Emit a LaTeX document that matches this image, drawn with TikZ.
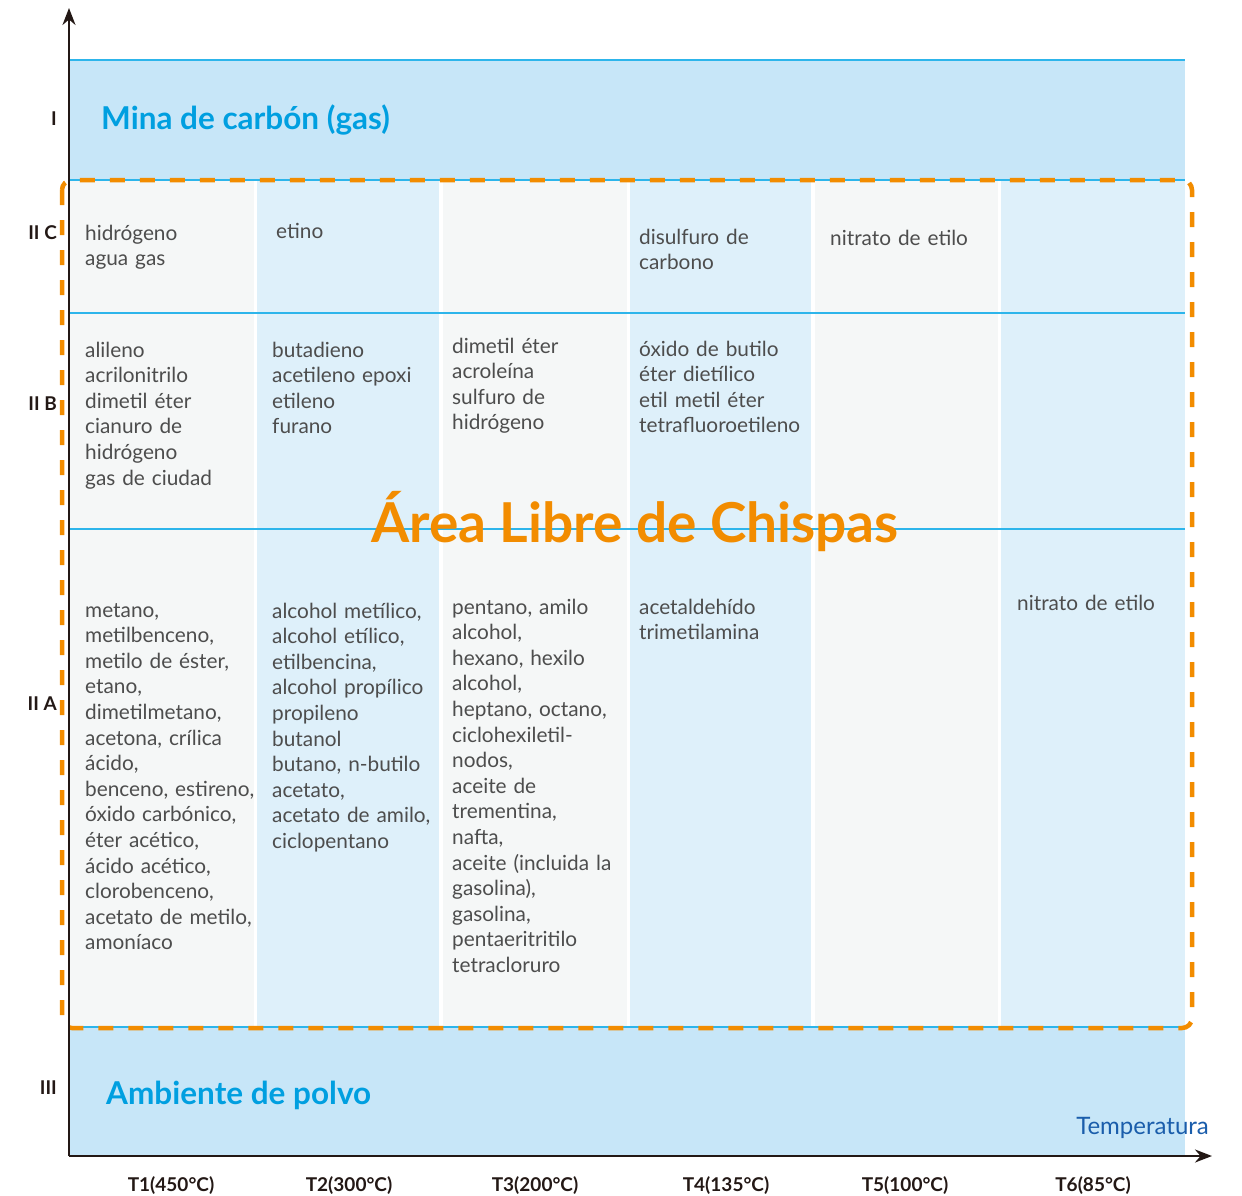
\documentclass[tikz,border=0pt]{standalone}
\usepackage{fontspec}
\setmainfont{Lato}
\usetikzlibrary{arrows.meta}
\definecolor{bandblue}{HTML}{C7E6F8}
\definecolor{colgray}{HTML}{F5F7F7}
\definecolor{colblue}{HTML}{DEF0FA}
\definecolor{cyanline}{HTML}{2DB5EB}
\definecolor{orng}{HTML}{F28C00}
\definecolor{titleblue}{HTML}{009FE0}
\definecolor{itemgray}{HTML}{4D4D4D}
\definecolor{axisblack}{HTML}{231815}
\definecolor{tempblue}{HTML}{1A5DAB}
\tikzset{
  items/.style={anchor=base west, inner sep=0pt, align=left, text width=240pt,
    text=itemgray, font=\fontsize{20.8}{25.6}\selectfont},
  zonetitle/.style={anchor=base west, inner sep=0pt, text=titleblue,
    font=\fontsize{31.5}{33}\selectfont\bfseries},
  roman/.style={anchor=base east, inner sep=0pt, text=axisblack,
    font=\fontsize{19}{22}\selectfont\bfseries},
  tlabel/.style={anchor=base, inner sep=0pt, text=axisblack,
    font=\fontsize{19}{22}\selectfont\bfseries},
  hline/.style={draw=cyanline, line width=1.5pt},
  axis/.style={draw=axisblack, line width=2.5pt, -{Stealth[length=17pt,width=13pt]}},
}
\begin{document}
\begin{tikzpicture}[x=1pt,y=-1pt]
\useasboundingbox (0,0) rectangle (1242,1195);
% bands
\fill[bandblue] (69,60) rectangle (1185,180);
\fill[bandblue] (69,1028) rectangle (1185,1156);
% columns
\fill[colgray] (69,180) rectangle (254,1028);
\fill[colblue] (257,180) rectangle (439,1028);
\fill[colgray] (443,180) rectangle (627,1028);
\fill[colblue] (630,180) rectangle (811,1028);
\fill[colgray] (815,180) rectangle (998,1028);
\fill[colblue] (1001,180) rectangle (1185,1028);
% horizontal lines
\foreach \yy in {60,180,313,529,1027}
  \draw[hline] (69,\yy) -- (1185,\yy);
% area title
\node[anchor=base, inner sep=0pt, text=orng, font=\fontsize{55}{58}\selectfont\bfseries]
  (area) at (635,542) {Área Libre de Chispas};
% dashed frame
\draw[orng, line width=4.5pt, dash pattern=on 15pt off 15pt, rounded corners=10pt]
  (62,180) rectangle (1192,1028);
% zone titles
\node[zonetitle] (mina) at (101,129) {Mina de carbón (gas)};
\node[zonetitle] (polvo) at (106,1104) {Ambiente de polvo};
% column texts
\node[items] (c1c) at (85,240) {hidrógeno\\agua gas};
\node[items] (c2c) at (276,238) {etino};
\node[items] (c4c) at (639,244) {disulfuro de\\carbono};
\node[items] (c5c) at (830,245) {nitrato de etilo};
\node[items] (c1b) at (85,357) {alileno\\acrilonitrilo\\dimetil éter\\cianuro de\\hidrógeno\\gas de ciudad};
\node[items] (c2b) at (272,357) {butadieno\\acetileno epoxi\\etileno\\furano};
\node[items] (c3b) at (452,353) {dimetil éter\\acroleína\\sulfuro de\\hidrógeno};
\node[items] (c4b) at (639,356) {óxido de butilo\\éter dietílico\\etil metil éter\\tetrafluoroetileno};
\node[items] (c1a) at (85,617) {metano,\\metilbenceno,\\metilo de éster,\\etano,\\dimetilmetano,\\acetona, crílica\\ácido,\\benceno, estireno,\\óxido carbónico,\\éter acético,\\ácido acético,\\clorobenceno,\\acetato de metilo,\\amoníaco};
\node[items] (c2a) at (272,618) {alcohol metílico,\\alcohol etílico,\\etilbencina,\\alcohol propílico\\propileno\\butanol\\butano, n-butilo\\acetato,\\acetato de amilo,\\ciclopentano};
\node[items] (c3a) at (452,614) {pentano, amilo\\alcohol,\\hexano, hexilo\\alcohol,\\heptano, octano,\\ciclohexiletil-\\nodos,\\aceite de\\trementina,\\nafta,\\aceite (incluida la\\gasolina),\\gasolina,\\pentaeritritilo\\tetracloruro};
\node[items] (c4a) at (639,614) {acetaldehído\\trimetilamina};
\node[items] (c6a) at (1017,610) {nitrato de etilo};
% axes
\coordinate (origin) at (69,1156);
\coordinate (ytip) at (69,8);
\coordinate (xtip) at (1212,1156);
\draw[axis] (origin) -- (ytip);
\draw[axis] (origin) -- (xtip);
% roman labels
\node[roman] (rI) at (57,125) {I};
\node[roman] (rIIC) at (57,239) {II C};
\node[roman] (rIIB) at (57,410) {II B};
\node[roman] (rIIA) at (57,710) {II A};
\node[roman] (rIII) at (57,1094) {III};
% temperature labels
\node[tlabel] (t1) at (171,1191) {T1(450°C)};
\node[tlabel] (t2) at (349,1191) {T2(300°C)};
\node[tlabel] (t3) at (535,1191) {T3(200°C)};
\node[tlabel] (t4) at (726,1191) {T4(135°C)};
\node[tlabel] (t5) at (905,1191) {T5(100°C)};
\node[tlabel] (t6) at (1093,1191) {T6(85°C)};
\node[anchor=base east, inner sep=0pt, text=tempblue, font=\fontsize{24}{26}\selectfont]
  (temp) at (1209,1134) {Temperatura};
\end{tikzpicture}
\end{document}
